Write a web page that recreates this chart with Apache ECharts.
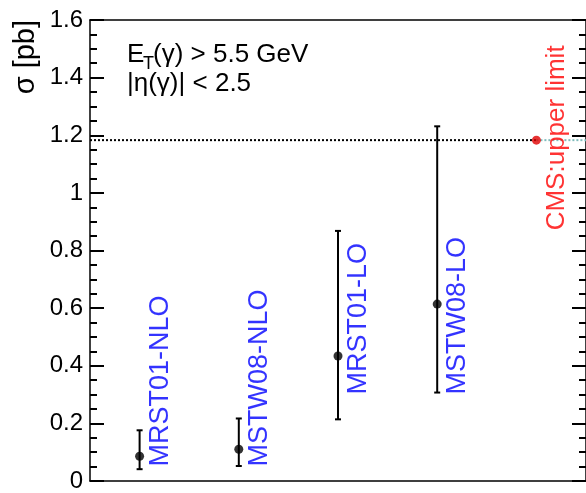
<!DOCTYPE html>
<html><head><meta charset="utf-8">
<script src="https://cdn.jsdelivr.net/npm/echarts@6/dist/echarts.min.js"></script>
<style>html,body{margin:0;padding:0;background:#fff}#c{width:586px;height:493px}</style>
</head><body><div id="c"></div><script>
// Predicted cross sections (pb) for the four PDF sets, with uncertainty band
const models = ['MRST01-NLO', 'MSTW08-NLO', 'MRST01-LO', 'MSTW08-LO'];
const xsec = [0.086, 0.110, 0.434, 0.614];
const xsecLow = [0.041, 0.052, 0.214, 0.307];
const xsecHigh = [0.176, 0.217, 0.868, 1.231];
// Measured upper limit
const cmsLabel = 'CMS:upper limit';
const cmsLimit = 1.183;
// Y-axis tick labels
const yTickLabels = ['0', '0.2', '0.4', '0.6', '0.8', '1', '1.2', '1.4', '1.6'];

const FONT = "'Liberation Sans', Arial, Helvetica, sans-serif";
// Heights (in pb) where the rotated model names start
const labelBase = [0.05, 0.05, 0.3, 0.3];
const cmsLabelBase = 0.87;
const labelShift = 0.21;

const chart = echarts.init(document.getElementById('c'), null, {renderer: 'canvas'});

function yAxisCfg(pos, showLabels) {
  return {
    type: 'value', position: pos, min: 0, max: 1.6, interval: 0.2,
    axisLine: {show: true, onZero: false, lineStyle: {color: '#000', width: 1.5}},
    axisTick: {show: true, inside: true, length: 14, lineStyle: {color: '#000', width: 2}},
    minorTick: {show: true, splitNumber: 4, length: 7, lineStyle: {color: '#000', width: 2}},
    splitLine: {show: false},
    minorSplitLine: {show: false},
    axisLabel: {
      show: showLabels, margin: 7, fontSize: 24, color: '#000', fontFamily: FONT,
      formatter: v => yTickLabels[Math.round(v / 0.2)]
    }
  };
}

const option = {
  animation: false,
  backgroundColor: '#fff',
  grid: {left: 90, top: 20, width: 498, height: 464},
  xAxis: [{
    type: 'value', min: 0, max: 5, position: 'bottom',
    axisLine: {show: true, onZero: false, lineStyle: {color: '#000', width: 1.5}},
    axisTick: {show: false}, axisLabel: {show: false}, splitLine: {show: false}
  }, {
    type: 'value', min: 0, max: 5, position: 'top',
    axisLine: {show: true, onZero: false, lineStyle: {color: '#000', width: 1.5}},
    axisTick: {show: false}, axisLabel: {show: false}, splitLine: {show: false}
  }],
  yAxis: [yAxisCfg('left', true), yAxisCfg('right', false)],
  graphic: [
    {type: 'text', x: 26, y: 20, rotation: Math.PI / 2,
     style: {text: 'σ [pb]', font: '29px ' + FONT, fill: '#000', align: 'right', verticalAlign: 'middle'}},
    {type: 'text', x: 127, y: 55,
     style: {text: 'E', font: '26px ' + FONT, fill: '#000', align: 'left', verticalAlign: 'middle'}},
    {type: 'text', x: 143, y: 64,
     style: {text: 'T', font: '18px ' + FONT, fill: '#000', align: 'left', verticalAlign: 'middle'}},
    {type: 'text', x: 153, y: 55,
     style: {text: '(γ) > 5.5 GeV', font: '26px ' + FONT, fill: '#000', align: 'left', verticalAlign: 'middle'}},
    {type: 'text', x: 127, y: 84,
     style: {text: '|η(γ)| < 2.5', font: '26px ' + FONT, fill: '#000', align: 'left', verticalAlign: 'middle'}}
  ],
  series: [
    // dotted line at the measured limit
    {type: 'line', data: [[0, cmsLimit], [4.5, cmsLimit]], symbol: 'none', silent: true, z: 1,
     lineStyle: {color: '#000', width: 2, type: [2, 2]}},
    {type: 'line', data: [[4.5, cmsLimit], [5, cmsLimit]], symbol: 'none', silent: true, z: 1,
     lineStyle: {color: '#7fbcbc', width: 2, type: [2, 2]}},
    // uncertainty bars
    {type: 'custom', z: 2,
     data: models.map((m, i) => [i + 0.5, xsecLow[i], xsecHigh[i]]),
     renderItem: function (params, api) {
       const lo = api.coord([api.value(0), api.value(1)]);
       const hi = api.coord([api.value(0), api.value(2)]);
       const st = {stroke: '#000', lineWidth: 2};
       return {type: 'group', children: [
         {type: 'line', shape: {x1: lo[0], y1: lo[1], x2: hi[0], y2: hi[1]}, style: st},
         {type: 'line', shape: {x1: lo[0] - 3, y1: lo[1], x2: lo[0] + 3, y2: lo[1]}, style: st},
         {type: 'line', shape: {x1: hi[0] - 3, y1: hi[1], x2: hi[0] + 3, y2: hi[1]}, style: st}
       ]};
     }},
    // central values
    {type: 'scatter', z: 3, symbol: 'circle', symbolSize: 9, itemStyle: {color: '#000'},
     data: models.map((m, i) => [i + 0.5, xsec[i]])},
    {type: 'scatter', z: 3, symbol: 'circle', symbolSize: 9, itemStyle: {color: '#e00000'},
     data: [[4.5, cmsLimit]]},
    // rotated model names
    {type: 'scatter', z: 4, symbolSize: 0, silent: true,
     data: models.map((m, i) => ({value: [i + 0.5 + labelShift, labelBase[i]], name: m})),
     label: {show: true, position: 'inside', formatter: p => p.name, rotate: 90,
             align: 'left', verticalAlign: 'middle', color: '#0000ff', fontSize: 27, fontFamily: FONT}},
    {type: 'scatter', z: 4, symbolSize: 0, silent: true,
     data: [{value: [4.5 + labelShift, cmsLabelBase], name: cmsLabel}],
     label: {show: true, position: 'inside', formatter: p => p.name, rotate: 90,
             align: 'left', verticalAlign: 'middle', color: '#ff0000', fontSize: 26, fontFamily: FONT}}
  ]
};
chart.setOption(option);
</script></body></html>
